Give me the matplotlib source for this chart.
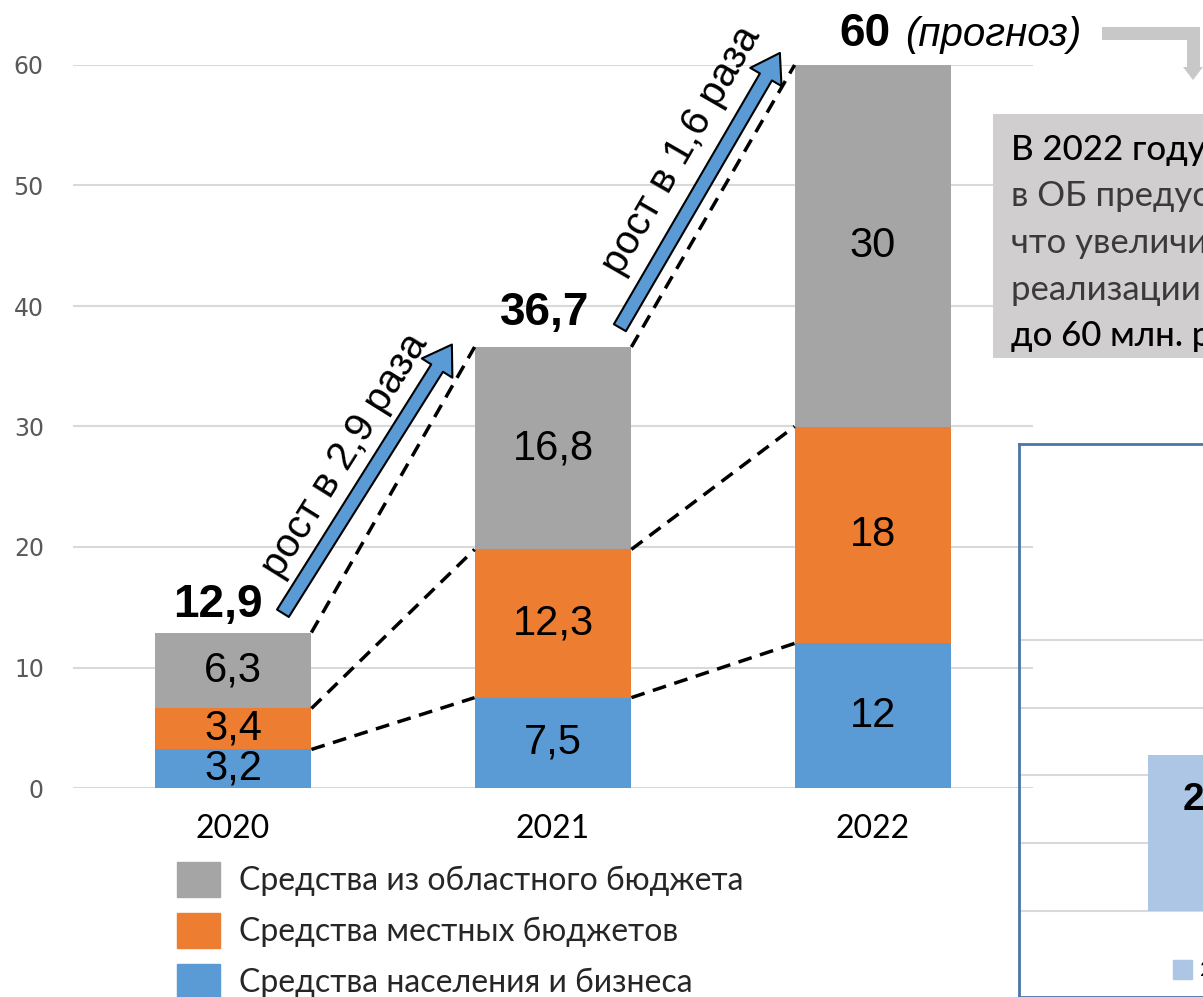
import numpy as np
import matplotlib.pyplot as plt
from matplotlib.patches import Patch, Rectangle, Polygon

years = ['2020', '2021', '2022']
business = [3.2, 7.5, 12]
local = [3.4, 12.3, 18]
regional = [6.3, 16.8, 30]
totals = [12.9, 36.7, 60]
business_lbl = ['3,2', '7,5', '12']
local_lbl = ['3,4', '12,3', '18']
regional_lbl = ['6,3', '16,8', '30']
total_lbl = ['12,9', '36,7', '60']
growth_lbl = ['рост в 2,9 раза', 'рост в 1,6 раза']
series_names = ['Средства населения и бизнеса', 'Средства местных бюджетов',
                'Средства из областного бюджета']
colors = ['#5b9bd5', '#ed7d31', '#a5a5a5']

note_lines = ['В 2022 году впервые', 'в ОБ предусмотрено', 'что увеличит объем',
              'реализации проектов', 'до 60 млн. рублей']
note_bold = [True, False, False, False, True]

# second (cut off) chart on the right
right_grid = [0, 1, 2, 3, 4]
right_bar = [2.3]
right_lbl = ['2,3']

W, H = 1203, 997
fig = plt.figure(figsize=(W / 100, H / 100), dpi=100)


def fx(x):
    return x / W


def fy(y):
    return 1 - y / H


NUM = 'Liberation Sans'
TXT = 'Lato'

ax = fig.add_axes([fx(73), fy(788), (1033 - 73) / W, (788 - 65) / H])
ax.set_xlim(-0.5, 2.5)
ax.set_ylim(0, 60)
x = np.arange(len(years))
bw = 0.49
bottom = np.zeros(len(years))
for vals, lbls, c in zip([business, local, regional],
                         [business_lbl, local_lbl, regional_lbl], colors):
    bars = ax.bar(x, vals, bw, bottom=bottom, color=c, zorder=2)
    ax.bar_label(bars, labels=lbls, label_type='center', fontsize=30,
                 family=NUM, color='black')
    bottom += np.array(vals)

# dashed connectors between the stacks
levels = np.cumsum([business, local, regional], axis=0)
for lvl in levels:
    for i in range(len(years) - 1):
        ax.plot([i + bw / 2, i + 1 - bw / 2], [lvl[i], lvl[i + 1]], color='black',
                ls=(0, (4, 2.5)), lw=2.5, clip_on=False, zorder=3)

# totals
total_off = [(-11, 11), (-6, 15), (-6, 14)]
for i, (t, lbl) in enumerate(zip(totals, total_lbl)):
    ax.annotate(lbl, (i, t), xytext=total_off[i], textcoords='offset points',
                ha='center', va='baseline', fontsize=33, fontweight='bold',
                family=NUM, annotation_clip=False)
ax.annotate('(прогноз)', (2, totals[2]), xytext=(23, 14), textcoords='offset points',
            ha='left', va='baseline', fontsize=29, style='italic', family=NUM,
            annotation_clip=False)

# growth arrows
arrows = [((0.156, 14.5), (0.684, 36.8)), ((1.209, 38.2), (1.709, 61.0))]
text_pos = [(0.35, 27.6), (1.40, 52.9)]
text_rot = [58, 60]
for (a, b), tp, rot, lbl in zip(arrows, text_pos, text_rot, growth_lbl):
    ax.annotate('', xy=b, xytext=a, annotation_clip=False,
                arrowprops=dict(arrowstyle='simple,head_length=1.0,head_width=1.3,tail_width=0.5',
                                mutation_scale=20, fc='#5b9bd5', ec='black', lw=1.5,
                                shrinkA=0, shrinkB=0))
    ax.text(tp[0], tp[1], lbl, rotation=rot, rotation_mode='anchor', ha='center',
            va='center', fontsize=29, family=NUM, clip_on=False)

ax.set_xticks(x, years)
ax.tick_params(axis='x', length=0, pad=19, labelsize=23)
for t in ax.get_xticklabels():
    t.set_family(TXT)
ax.set_yticks(range(0, 61, 10))
ax.tick_params(axis='y', length=0, pad=21, labelsize=17, labelcolor='#595959')
ax.yaxis.grid(True, color='#d9d9d9', lw=1.5)
ax.set_axisbelow(True)
for s in ax.spines.values():
    s.set_visible(False)

handles = [Patch(color=c) for c in colors][::-1]
fig.legend(handles, series_names[::-1], loc='upper left',
           bbox_to_anchor=(fx(177), fy(862)), borderaxespad=0, borderpad=0,
           frameon=False, handlelength=1.35, handleheight=1.3, handletextpad=0.6,
           labelspacing=0.5, prop=dict(family=TXT, size=23), labelcolor='#262626')

# note box
fig.add_artist(Rectangle((fx(993), fy(358)), (W + 50 - 993) / W, (358 - 114) / H,
                         transform=fig.transFigure, fc='#d0cece', ec='none'))
for k, (line, b) in enumerate(zip(note_lines, note_bold)):
    fig.text(fx(1011), fy(150 + 46.5 * k), line, ha='left', va='center', fontsize=25,
             family=TXT, color='black' if b else '#3a3a3a',
             fontweight='medium' if b else 'normal')

# bent grey arrow from the forecast label to the note
pts = [(1102, 27), (1200, 27), (1200, 67), (1203, 67), (1193, 80), (1183, 67),
       (1187, 67), (1187, 40), (1102, 40)]
fig.add_artist(Polygon([(fx(px), fy(py)) for px, py in pts], closed=True,
                       transform=fig.transFigure, fc='#c8c8c8', ec='none'))

# right chart, cut off by the picture edge
ax2 = fig.add_axes([fx(1019), 0, 0.3, fy(444)])
ax2.set_facecolor('none')
ax2.set_xlim(0, 1)
ax2.set_ylim(-1.27, 6.89)
ax2.bar([0.357], right_bar, 0.6, align='edge', color='#adc6e5', zorder=2)
ax2.text(0.452, 1.64, right_lbl[0], ha='left', va='center', fontsize=28,
         fontweight='bold', family=NUM)
ax2.set_yticks(right_grid)
ax2.set_xticks([])
ax2.tick_params(axis='y', length=0, labelleft=False)
ax2.yaxis.grid(True, color='#d9d9d9', lw=1.5)
ax2.set_axisbelow(True)
for s in ax2.spines.values():
    s.set_color('#4a76a8')
    s.set_linewidth(2)
ax2.add_patch(Rectangle(((1173 - 1019) / (0.3 * W), -1.27 + (997 - 979) / 67.75),
                        19 / (0.3 * W), 19 / 67.75, color='#adc6e5', clip_on=False))
ax2.text((1200 - 1019) / (0.3 * W), -1.27 + (997 - 970) / 67.75, '2021',
         fontsize=16, family=TXT, va='center', ha='left')

fig.savefig('out.png', dpi=100)
